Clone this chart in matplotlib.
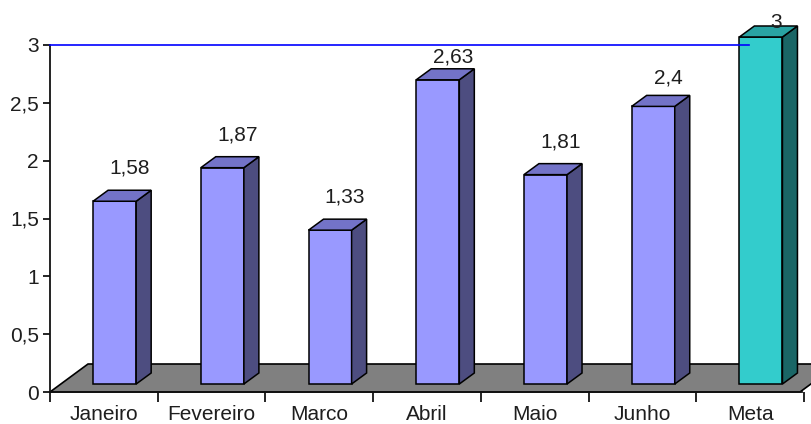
import matplotlib
matplotlib.use("Agg")
import matplotlib.pyplot as plt
from matplotlib.patches import Polygon

plt.rcParams['font.family'] = ['Liberation Sans', 'DejaVu Sans']

categories = ["Janeiro", "Fevereiro", "Marco", "Abril", "Maio", "Junho", "Meta"]
values = [1.58, 1.87, 1.33, 2.63, 1.81, 2.4, 3]
labels = ["1,58", "1,87", "1,33", "2,63", "1,81", "2,4", "3"]
yticks = [0, 0.5, 1, 1.5, 2, 2.5, 3]
yticklabels = ["0", "0,5", "1", "1,5", "2", "2,5", "3"]
target = 3

W, H = 812, 424
fig = plt.figure(figsize=(W / 100, H / 100), dpi=100)
AX_BOTTOM, AX_H = 32, 347
ax = fig.add_axes([50 / W, AX_BOTTOM / H, 754 / W, AX_H / H])
n = len(categories)
ax.set_xlim(0, n)
ax.set_ylim(0, 3)

px_x = n / 754.0     # data units per px (x)
px_y = 3 / float(AX_H)  # data units per px (y)

# floor
fdx, fdy = 38 * px_x, 28 * px_y
floor_right = n - 4 * px_x
floor = Polygon([(0, 0), (floor_right, 0), (floor_right + fdx, fdy), (fdx, fdy)],
                closed=True, facecolor="#808080", edgecolor="black", lw=1.2,
                clip_on=False, zorder=1)
ax.add_patch(floor)

# bars
bdx, bdy = 15 * px_x, 11 * px_y
base = 8 * px_y
front_cols = ["#9999FF"] * 6 + ["#33CCCC"]
side_cols = ["#4D4D80"] * 6 + ["#1A6666"]
top_cols = ["#7373C8"] * 6 + ["#29A3A3"]
x0s = [i + 0.4 for i in range(n)]
ax.bar(x0s, values, width=0.4, bottom=base, align="edge", color=front_cols,
       edgecolor="black", linewidth=1.1, zorder=3, clip_on=False)
for i, v in enumerate(values):
    x0, x1 = x0s[i], x0s[i] + 0.4
    top = base + v
    side = Polygon([(x1, base), (x1 + bdx, base + bdy), (x1 + bdx, top + bdy), (x1, top)],
                   closed=True, facecolor=side_cols[i], edgecolor="black", lw=1.1,
                   zorder=3, clip_on=False)
    tp = Polygon([(x0, top), (x0 + bdx, top + bdy), (x1 + bdx, top + bdy), (x1, top)],
                 closed=True, facecolor=top_cols[i], edgecolor="black", lw=1.1,
                 zorder=3, clip_on=False)
    ax.add_patch(side)
    ax.add_patch(tp)
    # label gap shrinks near the top of the chart (as in the reference)
    y_back_px = H - AX_BOTTOM - (top + bdy) / px_y
    gap_px = min(22.0, 0.2 * y_back_px - 1.5)
    ax.annotate(labels[i], xy=(x0 + 0.2 + bdx, top + bdy), xytext=(0, gap_px * 0.72),
                textcoords="offset points", ha="center", va="center",
                fontsize=15, color="#1e1e1e", zorder=5, annotation_clip=False)

# target line
ax.plot([0, x0s[-1] + 10 * px_x], [target, target], color="#0000FF", lw=1.2,
        zorder=4, clip_on=False)

# axes styling
for s in ["top", "right"]:
    ax.spines[s].set_visible(False)
for s in ["left", "bottom"]:
    ax.spines[s].set_linewidth(1.3)
    ax.spines[s].set_color("#111111")
    ax.spines[s].set_zorder(2)
ax.spines["bottom"].set_bounds(0, n - 0.02)

ax.set_yticks(yticks)
ax.set_yticklabels(yticklabels)
ax.set_xticks([i + 0.5 for i in range(n)])
ax.set_xticklabels(categories)
ax.set_xticks(range(n + 1), minor=True)
ax.tick_params(axis="x", which="major", length=0, pad=9, labelsize=15, labelcolor="#1e1e1e")
ax.tick_params(axis="x", which="minor", length=7, width=1.2, direction="out")
ax.tick_params(axis="y", length=5, width=1.2, direction="out", pad=3, labelsize=15, labelcolor="#1e1e1e")

fig.savefig("out.png", dpi=100)
